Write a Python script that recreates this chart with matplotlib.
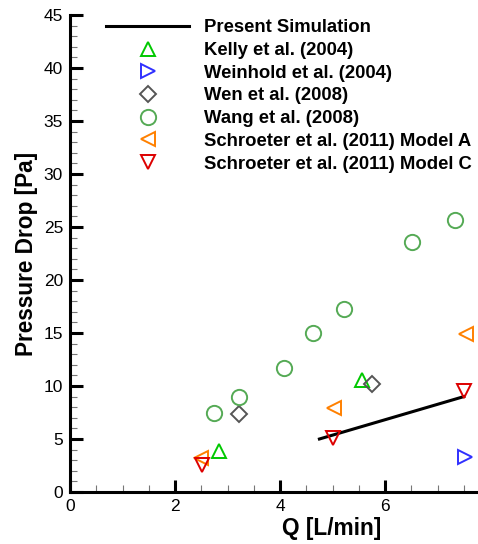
import matplotlib
matplotlib.use("Agg")
import matplotlib.pyplot as plt
from matplotlib.ticker import MultipleLocator

plt.rcParams["font.family"] = ["Liberation Sans", "DejaVu Sans"]

# Present simulation (line)
sim_q = [4.75, 7.5]
sim_dp = [5.0, 9.0]

# experimental / literature data
kelly_q = [2.84, 5.57]
kelly_dp = [3.9, 10.6]

weinhold_q = [7.52]
weinhold_dp = [3.3]

wen_q = [3.21, 5.76]
wen_dp = [7.4, 10.2]

wang_q = [2.75, 3.22, 4.08, 4.62, 5.21, 6.51, 7.33]
wang_dp = [7.5, 9.0, 11.7, 15.0, 17.3, 23.6, 25.7]

schA_q = [2.49, 5.03, 7.54]
schA_dp = [3.2, 7.9, 14.9]

schC_q = [2.51, 5.0, 7.5]
schC_dp = [2.55, 5.1, 9.55]


fig = plt.figure(figsize=(4.78, 5.44), dpi=100)
ax = fig.add_axes([70 / 478, 52 / 544, 1 - 70 / 478, 477 / 544])

ax.plot(sim_q, sim_dp, color="black", lw=2.2, label="Present Simulation")
mk = dict(linestyle="none", markerfacecolor="none", markeredgewidth=1.4)
ax.plot(kelly_q, kelly_dp, marker="^", ms=10, color="#00c800", label="Kelly et al. (2004)", **mk)
ax.plot(weinhold_q, weinhold_dp, marker=">", ms=10, color="#3030ff", label="Weinhold et al. (2004)", **mk)
ax.plot(wen_q, wen_dp, marker="D", ms=8.5, color="#555555", label="Wen et al. (2008)", **mk)
ax.plot(wang_q, wang_dp, marker="o", ms=11, color="#55aa55", label="Wang et al. (2008)", **mk)
ax.plot(schA_q, schA_dp, marker="<", ms=10, color="#ff8000", label="Schroeter et al. (2011) Model A", **mk)
ax.plot(schC_q, schC_dp, marker="v", ms=10, color="#dd0000", label="Schroeter et al. (2011) Model C", **mk)

ax.set_xlim(0, 7.77)
ax.set_ylim(0, 45)
ax.xaxis.set_major_locator(MultipleLocator(2))
ax.xaxis.set_minor_locator(MultipleLocator(0.5))
ax.yaxis.set_major_locator(MultipleLocator(5))
ax.yaxis.set_minor_locator(MultipleLocator(1))

for s in ["top", "right"]:
    ax.spines[s].set_visible(False)
for s in ["left", "bottom"]:
    ax.spines[s].set_linewidth(2.2)

ax.tick_params(which="major", direction="in", length=9, width=2.2, labelsize=12.5, pad=5)
ax.tick_params(which="minor", direction="in", length=5, width=0.8, color="#777777")

ax.set_xlabel("Q [L/min]", fontsize=16.3, fontweight="bold", labelpad=1)
ax.xaxis.set_label_coords(0.642, -0.052)
ax.set_ylabel("Pressure Drop [Pa]", fontsize=16.3, fontweight="bold", labelpad=4)

leg = ax.legend(loc="upper left", bbox_to_anchor=(0.07, 1.0065), frameon=False,
                prop={"weight": "bold", "size": 13.3}, handlelength=4.5,
                handletextpad=0.8, labelspacing=0.31, borderaxespad=0)

fig.savefig("out.png", dpi=100)
